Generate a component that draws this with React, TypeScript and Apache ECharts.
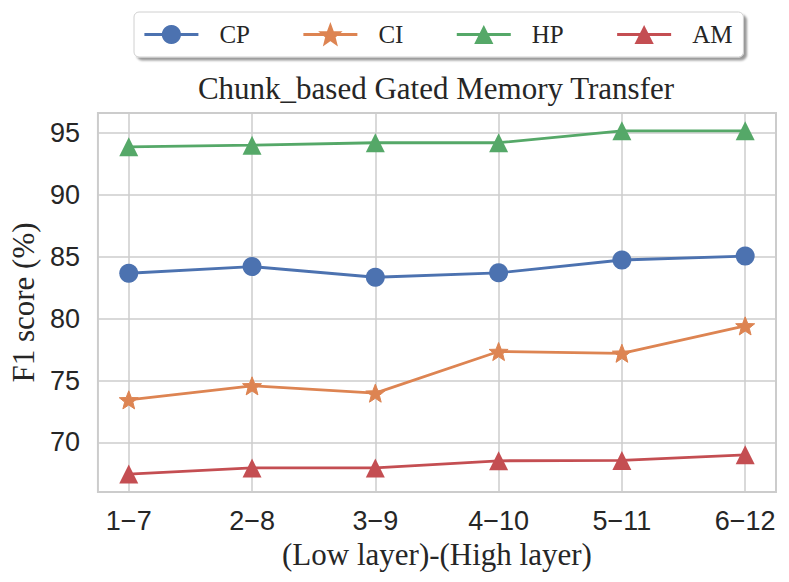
import React, { useEffect, useRef } from "react";
import * as echarts from "echarts";

const categories = ["1\u22127", "2\u22128", "3\u22129", "4\u221210", "5\u221211", "6\u221212"];
const seriesNames = ["CP", "CI", "HP", "AM"];
const cpValues = [83.66, 84.2, 83.34, 83.7, 84.73, 85.05];
const ciValues = [73.44, 74.57, 73.98, 77.34, 77.2, 79.41];
const hpValues = [93.87, 94.0, 94.2, 94.2, 95.16, 95.16];
const amValues = [67.45, 67.94, 67.94, 68.52, 68.55, 69.0];
const yTicks = [70, 75, 80, 85, 90, 95];

const colors = ["#4C72B0", "#DD8452", "#55A868", "#C44E52"];
const STAR =
  "path://M0,-10 L2.6,-3.3 L9.511,-3.09 L4.1,1.3 L5.878,8.09 L0,4.2 L-5.878,8.09 L-4.1,1.3 L-9.511,-3.09 L-2.6,-3.3 Z";

export default function App() {
  const ref = useRef<HTMLDivElement>(null);
  useEffect(() => {
    if (!ref.current) return;
    const chart = echarts.init(ref.current, undefined, { renderer: "svg" });
    const xIdx = categories.map((_, i) => i);
    const all = [cpValues, ciValues, hpValues, amValues];
    const symbols = ["circle", STAR, "triangle", "triangle"];
    const sizes = [19, 19, 19, 19];
    const serif = "'Liberation Serif', 'Times New Roman', serif";
    const sans = "'Liberation Sans', Arial, sans-serif";
    const textColor = "#262626";
    chart.setOption({
      animation: false,
      backgroundColor: "#ffffff",
      title: {
        text: "Chunk_based Gated Memory Transfer",
        left: 436,
        top: 73,
        textAlign: "center",
        padding: 0,
        textStyle: { fontFamily: serif, fontSize: 31, fontWeight: "normal", color: textColor },
      },
      legend: {
        data: seriesNames,
        left: 134,
        top: 12,
        orient: "horizontal",
        padding: [10, 11, 10, 9],
        itemWidth: 54,
        itemHeight: 24,
        itemGap: 52,
        backgroundColor: "#ffffff",
        borderColor: "#d0d0d0",
        borderWidth: 1,
        borderRadius: 5,
        shadowColor: "rgba(0,0,0,0.4)",
        shadowBlur: 2,
        shadowOffsetX: 3,
        shadowOffsetY: 3,
        lineStyle: { width: 2.8 },
        textStyle: {
          fontFamily: serif,
          fontSize: 25,
          color: textColor,
          padding: [0, 0, 0, 16],
        },
      },
      grid: {
        left: 96,
        right: 13,
        top: 113,
        bottom: 90,
        show: true,
        borderColor: "#cccccc",
        borderWidth: 2,
        backgroundColor: "transparent",
      },
      xAxis: {
        type: "value",
        min: -0.25,
        max: 5.25,
        name: "(Low layer)-(High layer)",
        nameLocation: "middle",
        nameGap: 44,
        nameTextStyle: { fontFamily: serif, fontSize: 31, color: textColor },
        axisLine: { show: false },
        axisTick: { show: false, customValues: xIdx },
        axisLabel: {
          customValues: xIdx,
          margin: 15,
          fontFamily: sans,
          fontSize: 27,
          color: textColor,
          formatter: (v: number) => categories[Math.round(v)] ?? "",
        },
        splitLine: { show: true, lineStyle: { color: "#cccccc", width: 1.5 } },
      },
      yAxis: {
        type: "value",
        min: 66,
        max: 96.6,
        name: "F1 score (%)",
        nameLocation: "middle",
        nameGap: 56,
        nameRotate: 90,
        nameTextStyle: { fontFamily: serif, fontSize: 31, color: textColor },
        axisLine: { show: false },
        axisTick: { show: false, customValues: yTicks },
        axisLabel: {
          customValues: yTicks,
          margin: 18,
          fontFamily: sans,
          fontSize: 27,
          color: textColor,
        },
        splitLine: { show: true, lineStyle: { color: "#cccccc", width: 1.5 } },
      },
      series: seriesNames.map((name, k) => ({
        name,
        type: "line",
        data: all[k].map((v, i) => [xIdx[i], v]),
        symbol: symbols[k],
        symbolSize: sizes[k],
        symbolKeepAspect: true,
        showAllSymbol: true,
        color: colors[k],
        itemStyle: { color: colors[k], borderColor: colors[k], borderWidth: k === 1 ? 1 : 0 },
        lineStyle: { color: colors[k], width: 2.8 },
        z: 3 + k,
      })),
    });
    return () => chart.dispose();
  }, []);
  return (
    <div
      ref={ref}
      style={{ position: "fixed", left: 0, top: 0, width: 789, height: 582 }}
    />
  );
}
